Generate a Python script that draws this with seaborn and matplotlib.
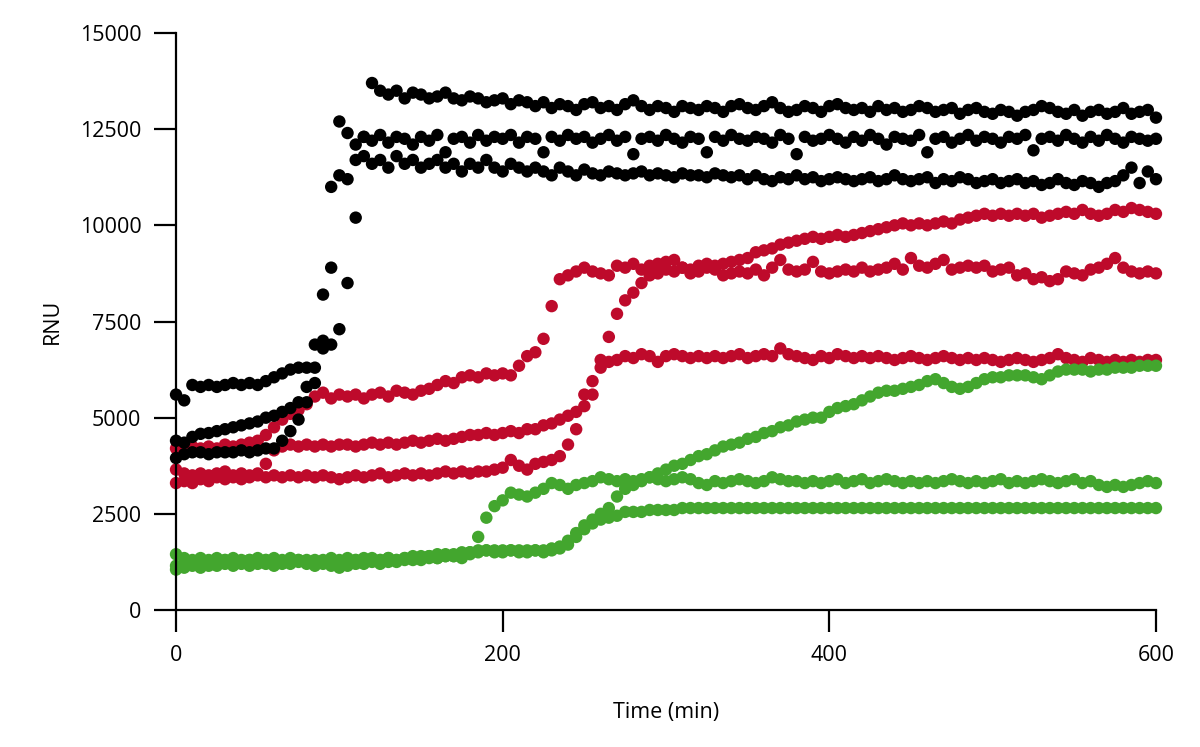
import matplotlib
matplotlib.use("Agg")
import matplotlib.pyplot as plt
import seaborn as sns
import pandas as pd

# sampling times (min)
time_min = list(range(0, 601, 5))

black_1 = [
    5600, 5450, 5850, 5800, 5850, 5800, 5850, 5900, 5850, 5900,
    5850, 5950, 6050, 6150, 6250, 6300, 6300, 6900, 8200, 11000,
    12700, 12400, 12100, 12300, 12200, 12350, 12150, 12300, 12250, 12100,
    12300, 12200, 12350, 11900, 12250, 12300, 12150, 12350, 12200, 12300,
    12250, 12350, 12150, 12300, 12250, 11900, 12300, 12200, 12350, 12250,
    12300, 12150, 12250, 12350, 12200, 12300, 11850, 12250, 12300, 12200,
    12350, 12250, 12150, 12300, 12250, 11900, 12300, 12200, 12350, 12250,
    12200, 12300, 12250, 12150, 12350, 12250, 11850, 12300, 12200, 12250,
    12350, 12250, 12150, 12300, 12200, 12350, 12250, 12100, 12300, 12250,
    12200, 12350, 11900, 12250, 12300, 12150, 12250, 12350, 12200, 12300,
    12250, 12150, 12300, 12250, 12350, 11950, 12250, 12300, 12200, 12350,
    12250, 12150, 12300, 12200, 12350, 12250, 12150, 12300, 12250, 12200,
    12250,
]
black_2 = [
    4400, 4350, 4500, 4580, 4600, 4650, 4700, 4750, 4800, 4850,
    4900, 5000, 5050, 5150, 5250, 5400, 5800, 6300, 7000, 8900,
    11300, 11200, 11700, 11800, 11600, 11700, 11500, 11800, 11600, 11700,
    11500, 11600, 11700, 11500, 11600, 11400, 11600, 11500, 11700, 11500,
    11400, 11600, 11500, 11400, 11500, 11400, 11300, 11500, 11400, 11300,
    11450, 11350, 11300, 11400, 11350, 11300, 11350, 11400, 11300, 11350,
    11300, 11250, 11350, 11300, 11300, 11250, 11350, 11300, 11250, 11300,
    11200, 11300, 11200, 11150, 11250, 11200, 11300, 11200, 11250, 11150,
    11200, 11250, 11200, 11150, 11200, 11250, 11150, 11200, 11300, 11200,
    11150, 11200, 11250, 11100, 11200, 11150, 11250, 11200, 11100, 11150,
    11200, 11100, 11150, 11200, 11100, 11150, 11050, 11100, 11200, 11100,
    11050, 11150, 11100, 11000, 11100, 11150, 11300, 11500, 11100, 11400,
    11200,
]
black_3 = [
    3950, 4050, 4100, 4100, 4050, 4100, 4100, 4100, 4150, 4100,
    4150, 4200, 4200, 4400, 4650, 4950, 5400, 5900, 6800, 6900,
    7300, 8500, 10200, 12300, 13700, 13500, 13400, 13500, 13300, 13450,
    13400, 13300, 13350, 13450, 13300, 13250, 13350, 13300, 13200, 13250,
    13300, 13150, 13250, 13200, 13100, 13200, 13050, 13150, 13100, 13000,
    13150, 13200, 13050, 13100, 13000, 13150, 13250, 13100, 13000, 13100,
    13050, 12950, 13100, 13050, 13000, 13100, 13050, 12950, 13100, 13150,
    13050, 13000, 13100, 13200, 13050, 12950, 13000, 13100, 13050, 12950,
    13100, 13150, 13050, 13000, 13050, 12950, 13100, 13000, 13050, 12950,
    13000, 13100, 13050, 12950, 13000, 13050, 12900, 13000, 13050, 12950,
    12900, 13000, 12950, 12850, 12950, 13000, 13100, 13050, 12950, 12900,
    13000, 12850, 12950, 13000, 12900, 12950, 13050, 12900, 12950, 13000,
    12800,
]

red_1 = [
    4200, 4150, 4250, 4200, 4250, 4200, 4300, 4250, 4300, 4350,
    4400, 4550, 4750, 4950, 5100, 5200, 5350, 5550, 5650, 5500,
    5600, 5550, 5600, 5500, 5600, 5650, 5550, 5700, 5650, 5600,
    5700, 5750, 5850, 5950, 5900, 6050, 6100, 6050, 6150, 6100,
    6150, 6100, 6350, 6600, 6700, 7050, 7900, 8600, 8700, 8800,
    8900, 8800, 8750, 8700, 8950, 8900, 9000, 8850, 8950, 9000,
    9050, 9100, 8900, 8750, 8800, 8900, 8850, 8700, 8750, 8800,
    8750, 8850, 8700, 8900, 9100, 8850, 8800, 8850, 9050, 8800,
    8750, 8800, 8850, 8800, 8900, 8800, 8850, 8900, 9000, 8850,
    9150, 8950, 8900, 9000, 9100, 8850, 8900, 8950, 8900, 8950,
    8800, 8850, 8900, 8700, 8750, 8600, 8650, 8550, 8600, 8800,
    8750, 8700, 8850, 8900, 9000, 9150, 8900, 8800, 8750, 8800,
    8750,
]
red_2 = [
    3650, 3550, 3500, 3550, 3500, 3550, 3600, 3500, 3550, 3500,
    3550, 3800, 4150, 4250, 4300, 4250, 4300, 4250, 4300, 4250,
    4300, 4300, 4250, 4300, 4350, 4300, 4350, 4300, 4350, 4400,
    4350, 4400, 4450, 4400, 4450, 4500, 4550, 4550, 4600, 4550,
    4600, 4650, 4600, 4700, 4700, 4800, 4850, 4950, 5050, 5150,
    5300, 5600, 6300, 6450, 6500, 6600, 6550, 6650, 6600, 6450,
    6600, 6650, 6600, 6550, 6600, 6550, 6600, 6550, 6600, 6650,
    6550, 6600, 6650, 6600, 6800, 6650, 6600, 6550, 6500, 6600,
    6550, 6650, 6600, 6550, 6600, 6550, 6600, 6550, 6500, 6550,
    6600, 6550, 6500, 6550, 6600, 6550, 6500, 6550, 6500, 6550,
    6500, 6450, 6500, 6550, 6500, 6450, 6500, 6550, 6650, 6550,
    6500, 6450, 6550, 6500, 6450, 6500, 6450, 6500, 6450, 6500,
    6500,
]
red_3 = [
    3300, 3350, 3300, 3400, 3350, 3450, 3400, 3450, 3400, 3450,
    3500, 3450, 3500, 3450, 3500, 3450, 3500, 3450, 3500, 3450,
    3400, 3450, 3500, 3450, 3500, 3550, 3450, 3500, 3550, 3500,
    3550, 3500, 3550, 3600, 3550, 3600, 3550, 3600, 3600, 3650,
    3700, 3900, 3750, 3650, 3800, 3850, 3900, 4000, 4300, 4700,
    5600, 5950, 6500, 7100, 7700, 8050, 8250, 8500, 8700, 8750,
    8850, 8800, 8900, 8850, 8950, 9000, 8950, 9000, 9050, 9100,
    9150, 9300, 9350, 9400, 9500, 9550, 9600, 9650, 9700, 9650,
    9700, 9750, 9700, 9750, 9800, 9850, 9900, 9950, 10000, 10050,
    10000, 10050, 10000, 10050, 10100, 10050, 10150, 10200, 10250, 10300,
    10250, 10300, 10250, 10300, 10250, 10300, 10200, 10250, 10300, 10350,
    10300, 10400, 10300, 10250, 10300, 10400, 10350, 10450, 10400, 10350,
    10300,
]

green_1 = [
    1450, 1350, 1300, 1350, 1300, 1350, 1300, 1350, 1300, 1300,
    1350, 1300, 1350, 1300, 1350, 1300, 1300, 1250, 1300, 1350,
    1300, 1350, 1300, 1350, 1350, 1300, 1350, 1300, 1350, 1400,
    1350, 1400, 1350, 1400, 1400, 1350, 1450, 1900, 2400, 2700,
    2850, 3050, 3000, 2950, 3050, 3150, 3300, 3250, 3150, 3250,
    3300, 3350, 3450, 3400, 3350, 3400, 3350, 3400, 3450, 3400,
    3350, 3400, 3450, 3400, 3300, 3250, 3350, 3300, 3350, 3400,
    3350, 3300, 3350, 3450, 3400, 3350, 3350, 3300, 3350, 3300,
    3350, 3400, 3300, 3350, 3400, 3300, 3350, 3400, 3350, 3300,
    3350, 3300, 3350, 3300, 3350, 3400, 3350, 3300, 3350, 3300,
    3350, 3400, 3300, 3350, 3300, 3350, 3400, 3350, 3300, 3350,
    3400, 3300, 3350, 3250, 3200, 3250, 3200, 3250, 3300, 3350,
    3300,
]
green_2 = [
    1050, 1100, 1150, 1100, 1150, 1150, 1200, 1150, 1200, 1150,
    1200, 1200, 1150, 1200, 1200, 1250, 1200, 1150, 1200, 1150,
    1100, 1150, 1200, 1200, 1250, 1200, 1250, 1250, 1300, 1300,
    1300, 1350, 1350, 1400, 1400, 1450, 1500, 1500, 1550, 1550,
    1500, 1550, 1550, 1500, 1550, 1500, 1550, 1600, 1700, 1900,
    2100, 2250, 2350, 2400, 2450, 2550, 2550, 2550, 2600, 2600,
    2600, 2600, 2650, 2650, 2650, 2650, 2650, 2650, 2650, 2650,
    2650, 2650, 2650, 2650, 2650, 2650, 2650, 2650, 2650, 2650,
    2650, 2650, 2650, 2650, 2650, 2650, 2650, 2650, 2650, 2650,
    2650, 2650, 2650, 2650, 2650, 2650, 2650, 2650, 2650, 2650,
    2650, 2650, 2650, 2650, 2650, 2650, 2650, 2650, 2650, 2650,
    2650, 2650, 2650, 2650, 2650, 2650, 2650, 2650, 2650, 2650,
    2650,
]
green_3 = [
    1150, 1200, 1250, 1200, 1250, 1250, 1300, 1250, 1250, 1300,
    1250, 1300, 1300, 1250, 1300, 1300, 1250, 1300, 1250, 1200,
    1250, 1250, 1300, 1250, 1300, 1300, 1350, 1300, 1350, 1350,
    1400, 1400, 1450, 1450, 1450, 1500, 1500, 1550, 1550, 1500,
    1550, 1550, 1500, 1550, 1550, 1550, 1600, 1650, 1800, 2000,
    2200, 2350, 2500, 2650, 2950, 3150, 3250, 3350, 3450, 3550,
    3650, 3750, 3800, 3900, 4000, 4050, 4150, 4250, 4300, 4350,
    4450, 4500, 4600, 4650, 4750, 4800, 4900, 4950, 5000, 5000,
    5150, 5250, 5300, 5350, 5450, 5550, 5650, 5700, 5700, 5750,
    5800, 5850, 5950, 6000, 5900, 5800, 5750, 5800, 5900, 6000,
    6050, 6050, 6100, 6100, 6100, 6050, 6000, 6100, 6200, 6250,
    6250, 6250, 6200, 6250, 6250, 6300, 6300, 6300, 6350, 6350,
    6350,
]

# drawing order: red first, then green, black on top
series = {
    "red_1": red_1, "red_2": red_2, "red_3": red_3,
    "green_1": green_1, "green_2": green_2, "green_3": green_3,
    "black_1": black_1, "black_2": black_2, "black_3": black_3,
}
colors = {"red": "#BE0A2B", "green": "#43A62E", "black": "#000000"}

frames = []
for name, vals in series.items():
    frames.append(pd.DataFrame({"time": time_min, "rnu": vals,
                                "group": name.split("_")[0]}))
df = pd.concat(frames, ignore_index=True)

sns.set_theme(style="ticks")
plt.rcParams["font.family"] = ["Open Sans", "DejaVu Sans"]
plt.rcParams["text.color"] = "black"

fig = plt.figure(figsize=(12, 7.47), dpi=100)
ax = fig.add_axes([0.1467, 0.1834, 0.8166, 0.7724])

sns.scatterplot(data=df, x="time", y="rnu", hue="group", palette=colors,
                s=80, linewidth=0, legend=False, clip_on=False, ax=ax)

ax.set_xlim(0, 600)
ax.set_ylim(0, 15000)
ax.set_xticks([0, 200, 400, 600])
ax.set_yticks([0, 2500, 5000, 7500, 10000, 12500, 15000])
sns.despine(ax=ax)
for side in ["left", "bottom"]:
    ax.spines[side].set_linewidth(1.6)
    ax.spines[side].set_color("black")
ax.tick_params(direction="out", length=16, width=1.6, colors="black",
               labelcolor="black", labelsize=15.5, pad=9)
ax.set_xlabel("Time (min)", fontsize=15.5, labelpad=26, color="black")
ax.set_ylabel("RNU", fontsize=15.5, labelpad=12, color="black")

fig.savefig("out.png", dpi=100)
